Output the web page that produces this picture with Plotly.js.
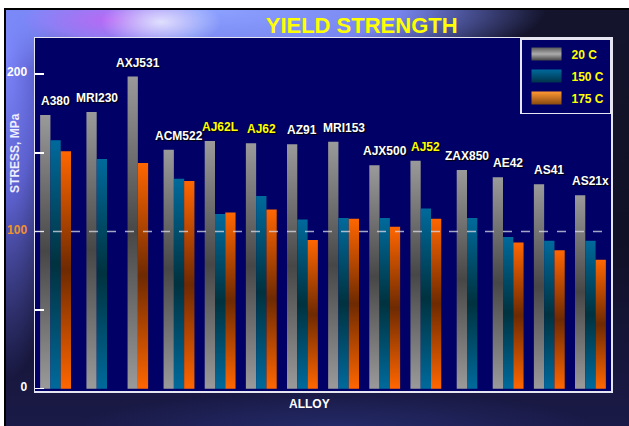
<!DOCTYPE html>
<html>
<head>
<meta charset="utf-8">
<script src="https://cdn.plot.ly/plotly-3.0.1.min.js"></script>
<style>
  html, body { margin:0; padding:0; background:#ffffff; width:629px; height:426px; overflow:hidden; }
  #bg { position:absolute; left:4px; top:8px; width:623px; height:416px;
        border-top:2px solid #000; border-left:2px solid #000;
        background:
          radial-gradient(ellipse 60px 26px at 155px 12px, rgba(235,240,255,0.85) 0%, rgba(235,240,255,0) 100%),
          radial-gradient(ellipse 90px 30px at 105px 10px, rgba(190,100,245,0.9) 0%, rgba(190,100,245,0) 100%),
          radial-gradient(ellipse 330px 70px at 210px 0px, rgba(140,160,255,1) 0%, rgba(125,140,250,0.95) 55%, rgba(60,60,160,0) 100%),
          radial-gradient(ellipse 70px 330px at 0px 40px, rgba(125,135,252,1) 0%, rgba(105,110,235,0.85) 45%, rgba(40,40,120,0) 100%),
          radial-gradient(ellipse 260px 40px at 330px 420px, rgba(40,50,120,0.7) 0%, rgba(40,50,120,0) 100%),
          linear-gradient(to bottom, #14142c 0%, #101026 55%, #1a1a48 100%);
  }
  #chart { position:absolute; left:0; top:0; width:629px; height:426px; }
</style>
</head>
<body>
<div id="bg"></div>
<div id="chart"></div>
<script>
// ---- data ----
var categories = ['A380','MRI230','AXJ531','ACM522','AJ62L','AJ62','AZ91','MRI153','AJX500','AJ52','ZAX850','AE42','AS41','AS21x'];
var series20  = [174, 176, 198.5, 152, 157.5, 156, 155.5, 157, 142, 145, 139, 134.5, 130, 123];
var series150 = [158, 146, null, 133.5, 111, 122.5, 107.5, 108.5, 108.5, 114.5, 108.5, 96.5, 94, 94];
var series175 = [151, null, 143.5, 132, 112, 114, 94.5, 108, 103, 108, null, 93, 88, 82];
var seriesNames = ['20 C', '150 C', '175 C'];
var yTickVals = [0, 50, 100, 150, 200];
var yTickText = ['0', '', '<span style="color:#f0922c">100</span>', '', '200'];
var yellowLabels = ['AJ62L', 'AJ62', 'AJ52'];
var refLine = 100;

// ---- layout helpers (computed offsets so present bars are centered) ----
var allSeries = [series20, series150, series175];
var W = 0.25;
var offsets = allSeries.map(function(){ return []; });
categories.forEach(function(c, i){
  var present = [];
  allSeries.forEach(function(s, k){ if (s[i] !== null) present.push(k); });
  var start = -present.length * W / 2;
  allSeries.forEach(function(s, k){
    var idx = present.indexOf(k);
    offsets[k][i] = idx >= 0 ? start + idx * W : 0;
  });
});

var baseColors = ['#8a8a8a', '#006699', '#ff6600'];
var traces = allSeries.map(function(s, k){
  return {
    type: 'bar', x: categories, y: s, name: '<b>' + seriesNames[k] + '</b>',
    width: W, offset: offsets[k], legendgroup: 'g' + k,
    marker: { color: baseColors[k], line: { width: 0 } },
    hoverinfo: 'x+y+name'
  };
});

var annotations = categories.map(function(c, i){
  var vals = allSeries.map(function(s){ return s[i]; }).filter(function(v){ return v !== null; });
  var top = Math.max.apply(null, vals);
  return {
    x: c, y: top, xref: 'x', yref: 'y', yanchor: 'bottom', yshift: 5,
    text: '<b>' + c + '</b>', showarrow: false,
    font: { family: 'Liberation Sans, Arial, sans-serif', size: 12,
            color: yellowLabels.indexOf(c) >= 0 ? '#ffff00' : '#ffffff',
            shadow: '1px 1px 1px #000' }
  };
});
annotations.push({
  xref: 'paper', yref: 'paper', x: -0.035, y: 0.674, textangle: -90,
  text: '<b>STRESS, MPa</b>', showarrow: false, xanchor: 'center', yanchor: 'middle',
  font: { family: 'Liberation Sans, Arial, sans-serif', size: 12, color: '#eeeeff' }
});
annotations.push({
  xref: 'paper', yref: 'paper', x: 0.476, y: -0.037,
  text: '<b>ALLOY</b>', showarrow: false, xanchor: 'center', yanchor: 'middle',
  font: { family: 'Liberation Sans, Arial, sans-serif', size: 12, color: '#ffffff' }
});

var layout = {
  width: 629, height: 426,
  margin: { l: 35, r: 18, t: 38, b: 35, pad: 0 },
  paper_bgcolor: 'rgba(0,0,0,0)',
  plot_bgcolor: '#000066',
  barmode: 'overlay',
  showlegend: true,
  title: { text: '<b>YIELD STRENGTH</b>', x: 0.575, xref: 'container', xanchor: 'center',
           y: 0.941, yref: 'container', yanchor: 'middle',
           font: { family: 'Liberation Sans, Arial, sans-serif', size: 22, color: '#ffff00' } },
  xaxis: { type: 'category', showticklabels: false, ticks: '', showgrid: false, zeroline: false,
           showline: true, mirror: true, linecolor: '#e6e6f2', linewidth: 1.5,
           range: [-0.5, categories.length - 0.5] },
  yaxis: { range: [-1.5, 223], tickvals: yTickVals, ticktext: yTickText,
           ticks: 'inside', ticklen: 9, tickcolor: '#ffffff', tickwidth: 1.5,
           showgrid: false, zeroline: false, ticklabelstandoff: 4, ticklabelshift: -2,
           showline: true, mirror: true, linecolor: '#e6e6f2', linewidth: 1.5,
           tickfont: { family: 'Liberation Sans, Arial, sans-serif', size: 12, color: '#ffffff', weight: 'bold' } },
  shapes: [{ type: 'line', xref: 'paper', yref: 'y', x0: 0, x1: 1, y0: refLine, y1: refLine,
             line: { color: 'rgba(220,220,230,0.75)', width: 1.5, dash: 'dash' }, layer: 'above' }],
  legend: { x: 1, xanchor: 'right', y: 1, yanchor: 'top', bgcolor: '#000066',
            bordercolor: '#e6e6f2', borderwidth: 1.5, itemwidth: 40, tracegroupgap: 3,
            font: { family: 'Liberation Sans, Arial, sans-serif', size: 12, color: '#ffff00' } },
  annotations: annotations
};

Plotly.newPlot('chart', traces, layout, { displayModeBar: false, staticPlot: true }).then(function(gd){
  var svgNS = 'http://www.w3.org/2000/svg';
  var svg = gd.querySelector('.main-svg');
  var defs = svg.querySelector('defs') || svg.insertBefore(document.createElementNS(svgNS, 'defs'), svg.firstChild);
  function grad(id, stops){
    var g = document.createElementNS(svgNS, 'linearGradient');
    g.setAttribute('id', id); g.setAttribute('x1', '0'); g.setAttribute('y1', '0');
    g.setAttribute('x2', '0'); g.setAttribute('y2', '1');
    stops.forEach(function(s){
      var st = document.createElementNS(svgNS, 'stop');
      st.setAttribute('offset', s[0]); st.setAttribute('stop-color', s[1]);
      g.appendChild(st);
    });
    defs.appendChild(g);
  }
  grad('gBar0', [['0', '#9a9a9a'], ['0.5', '#474747'], ['1', '#9a9a9a']]);
  grad('gBar1', [['0', '#006a9c'], ['0.5', '#00323f'], ['1', '#006a9c']]);
  grad('gBar2', [['0', '#ff6600'], ['0.5', '#6e2a02'], ['1', '#ff6600']]);
  grad('gLeg0', [['0', '#5a5a5a'], ['0.5', '#acacac'], ['1', '#444444']]);
  grad('gLeg1', [['0', '#006a9c'], ['1', '#00334a']]);
  grad('gLeg2', [['0', '#ff9933'], ['1', '#8a4a10']]);

  var barTraces = gd.querySelectorAll('.barlayer .trace');
  barTraces.forEach(function(t, k){
    t.querySelectorAll('path').forEach(function(p){ p.style.fill = 'url(#gBar' + k + ')'; });
  });
  var legTraces = gd.querySelectorAll('.legend .traces');
  legTraces.forEach(function(t, k){
    t.querySelectorAll('.legendpoints path').forEach(function(p){
      p.setAttribute('d', 'M-15,-6.5H15V6.5H-15Z');
      p.style.fill = 'url(#gLeg' + k + ')';
      p.style.stroke = 'none';
    });
  });
});
</script>
</body>
</html>
